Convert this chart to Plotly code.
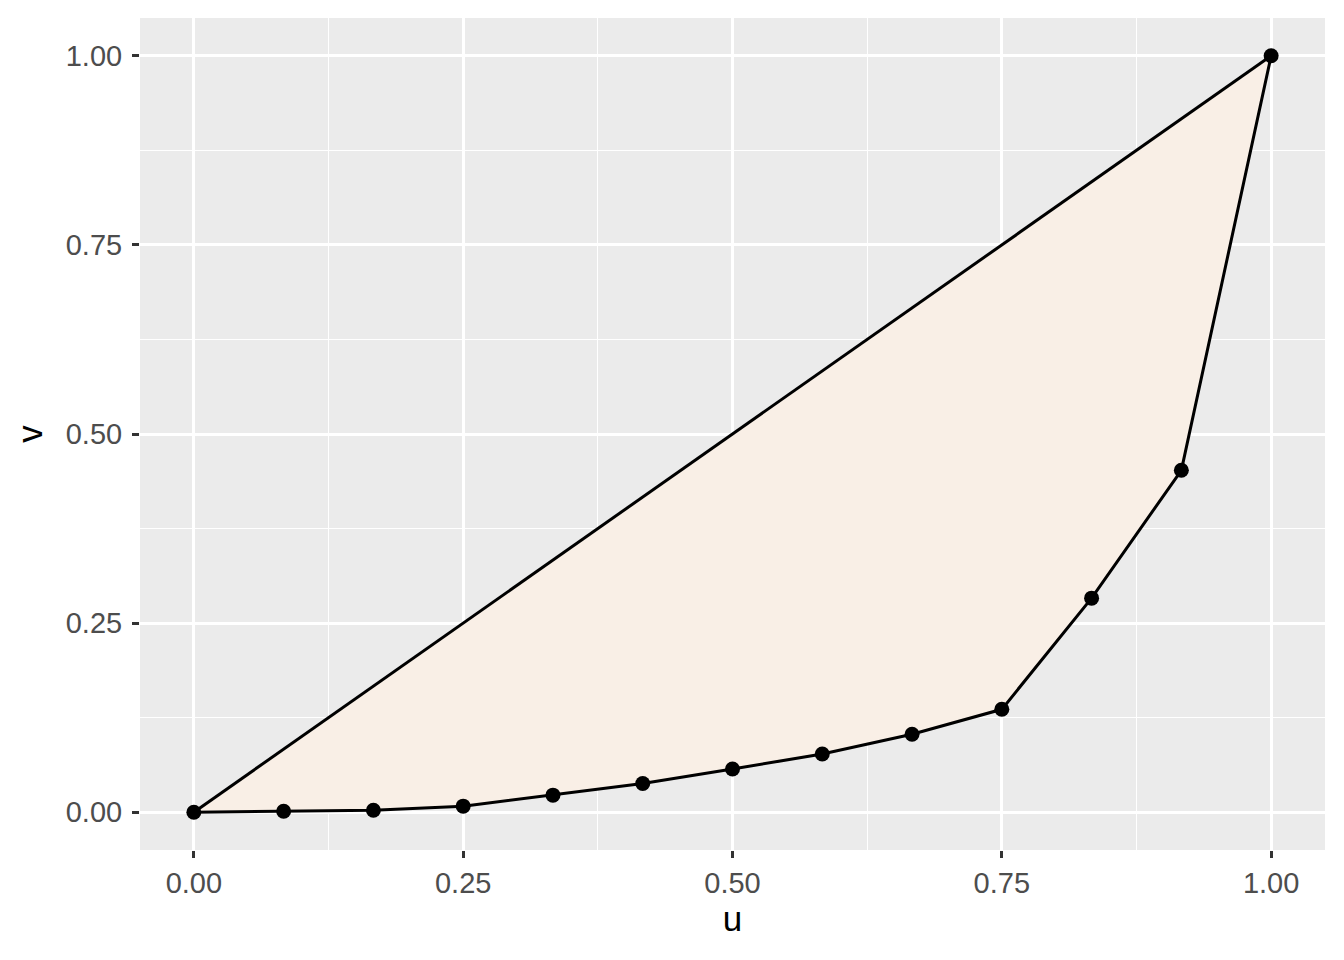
import plotly.graph_objects as go

u = [0, 1/12, 2/12, 3/12, 4/12, 5/12, 6/12, 7/12, 8/12, 9/12, 10/12, 11/12, 1]
v = [0, 0.0013, 0.0026, 0.008, 0.0225, 0.038, 0.057, 0.077, 0.103, 0.136, 0.283, 0.452, 1]
tick_vals = [0, 0.25, 0.5, 0.75, 1.0]
tick_text = ["0.00", "0.25", "0.50", "0.75", "1.00"]

FONT = "Liberation Sans, Arial"

fig = go.Figure()
fig.add_trace(go.Scatter(x=u, y=v, fill="toself", fillcolor="#F9EFE6",
                         mode="none", hoverinfo="skip", showlegend=False))
fig.add_trace(go.Scatter(x=[u[0], u[-1]], y=[v[0], v[-1]], mode="lines",
                         line=dict(color="black", width=3), showlegend=False))
fig.add_trace(go.Scatter(x=u, y=v, mode="lines+markers",
                         line=dict(color="black", width=3),
                         marker=dict(color="black", size=15), showlegend=False))

axis_common = dict(
    showgrid=True, gridcolor="white", gridwidth=2.6, zeroline=False,
    ticks="outside", ticklen=7, tickwidth=2.6, tickcolor="#333333",
    tickfont=dict(family=FONT, size=29, color="#4D4D4D"),
    tickvals=tick_vals, ticktext=tick_text, showline=False,
    minor=dict(tickvals=[0.125, 0.375, 0.625, 0.875], showgrid=True,
               gridcolor="white", gridwidth=1.3, ticks=""),
)
fig.update_xaxes(range=[-0.05, 1.05],
                 title=dict(text="u", font=dict(family=FONT, size=35, color="black"), standoff=8),
                 **axis_common)
fig.update_yaxes(range=[-0.05, 1.05], ticklabelstandoff=4,
                 title=dict(text="v", font=dict(family=FONT, size=35, color="black"), standoff=12),
                 **axis_common)
fig.update_layout(
    width=1336, height=952,
    plot_bgcolor="#EBEBEB", paper_bgcolor="white",
    margin=dict(l=132, r=19, t=10, b=110),
)
fig.write_html("out.html")
